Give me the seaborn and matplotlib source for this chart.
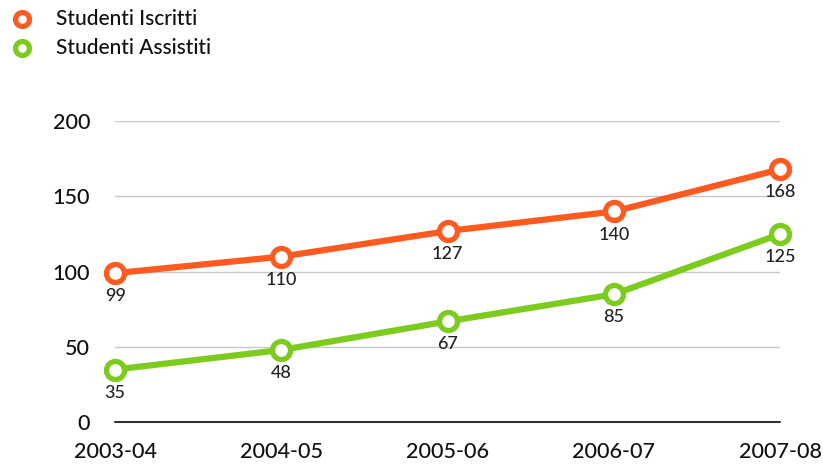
import pandas as pd
import matplotlib.pyplot as plt
import seaborn as sns

# Dati
anni = ['2003-04', '2004-05', '2005-06', '2006-07', '2007-08']
iscritti = [99, 110, 127, 140, 168]
assistiti = [35, 48, 67, 85, 125]
serie = ['Studenti Iscritti', 'Studenti Assistiti']
colori = ['#FF5A1F', '#7CCB1E']

df = pd.DataFrame({
    'anno': anni * 2,
    'x': list(range(len(anni))) * 2,
    'valore': iscritti + assistiti,
    'serie': [serie[0]] * len(anni) + [serie[1]] * len(anni),
})

sns.set_style('white')
plt.rcParams['font.family'] = ['Lato', 'DejaVu Sans']
plt.rcParams['font.weight'] = 'medium'

fig = plt.figure(figsize=(8.23, 4.66), dpi=100)
ax = fig.add_axes([0.14, 0.094, 0.808, 0.646])

sns.lineplot(data=df, x='x', y='valore', hue='serie', palette=colori,
             linewidth=4.5, marker='o', markersize=13, markerfacecolor='white',
             markeredgewidth=3.8, ax=ax, legend=False, zorder=3)
# bordi dei marker colorati come le linee
for line, c in zip(ax.lines, colori):
    line.set_markeredgecolor(c)

# etichette dei valori
for vals in (iscritti, assistiti):
    for i, v in enumerate(vals):
        ax.text(i, v - 10, str(v), ha='center', va='top', fontsize=13,
                color='#222222', zorder=4)

ax.set_xlim(0, 4)
ax.set_ylim(0, 200)
ax.set_yticks([0, 50, 100, 150, 200])
ax.set_xticks(range(len(anni)))
ax.set_xticklabels(anni)
ax.tick_params(axis='both', labelsize=15.5, length=0, colors='#111111')
ax.tick_params(axis='y', pad=18)
ax.tick_params(axis='x', pad=14)
ax.set_xlabel('')
ax.set_ylabel('')
ax.grid(axis='y', color='#c8c8c8', linewidth=1)
ax.axhline(0, color='#333333', linewidth=1.5, zorder=2)
for s in ax.spines.values():
    s.set_visible(False)
for line in ax.lines:
    line.set_clip_on(False)

# legenda
for k, (nome, c) in enumerate(zip(serie, colori)):
    y = 0.96 - k * 0.062
    fig.lines.append(plt.Line2D([0.027], [y], marker='o', markersize=10,
                                markerfacecolor='white', markeredgecolor=c,
                                markeredgewidth=3.8, transform=fig.transFigure))
    fig.text(0.068, y, nome, fontsize=15, va='center', color='#111111')

plt.savefig('out.png', dpi=100)
